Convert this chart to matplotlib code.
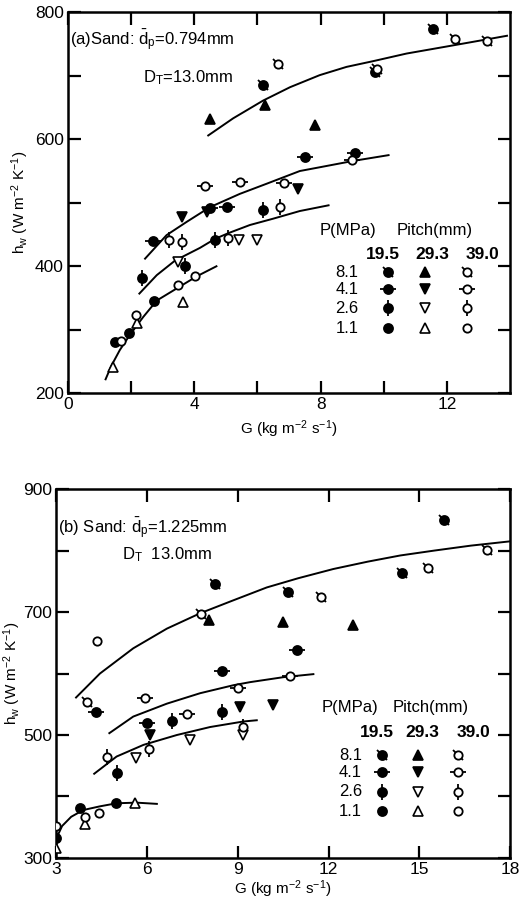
import matplotlib
matplotlib.use("Agg")
import matplotlib.pyplot as plt
from matplotlib.markers import MarkerStyle
from matplotlib.transforms import Affine2D

plt.rcParams['font.family'] = ['Liberation Sans', 'DejaVu Sans']
plt.rcParams['mathtext.fontset'] = 'custom'
plt.rcParams['mathtext.rm'] = 'Liberation Sans'
plt.rcParams['mathtext.it'] = 'Liberation Sans:italic'
plt.rcParams['mathtext.bf'] = 'Liberation Sans:bold'

pressures = ['8.1', '4.1', '2.6', '1.1']
pitches = ['19.5', '29.3', '39.0']

# ---- panel (a): sand dp = 0.794 mm ----
# each list holds one series per pitch (19.5, 29.3, 39.0)
a_g_81 = [[6.18, 9.72, 11.57], [4.49, 6.24, 7.82], [6.66, 9.78, 12.26, 13.27]]
a_h_81 = [[685, 706, 774], [632, 654, 623], [718, 711, 758, 754]]
a_g_41 = [[2.7, 4.49, 5.02, 7.5, 9.09], [3.6, 4.39, 7.29], [4.34, 5.44, 6.85, 8.99]]
a_h_41 = [[440, 491, 493, 572, 578], [478, 485, 522], [526, 533, 531, 568]]
a_g_26 = [[2.33, 3.7, 4.65, 6.18], [3.49, 5.42, 5.97], [3.21, 3.6, 5.07, 6.71]]
a_h_26 = [[382, 401, 441, 488], [407, 441, 442], [441, 438, 444, 493]]
a_g_11 = [[1.48, 1.93, 2.72], [1.43, 2.19, 3.63], [1.69, 2.15, 3.49, 4.02]]
a_h_11 = [[281, 295, 345], [242, 311, 344], [283, 324, 370, 384]]

# fitted curves
a_curve_g_81 = [4.44, 5.23, 6.18, 7.03, 7.97, 8.82, 9.66, 10.72, 11.98, 13.0, 13.9]
a_curve_h_81 = [606, 633, 661, 682, 701, 714, 723, 735, 746, 755, 763]
a_curve_g_41 = [2.44, 3.12, 3.76, 4.49, 5.44, 6.29, 7.34, 7.98, 9.04, 10.15]
a_curve_h_41 = [412, 449, 470, 493, 514, 530, 550, 556, 566, 575]
a_curve_g_26 = [2.26, 2.81, 3.39, 4.18, 4.65, 5.07, 5.76, 6.5, 7.34, 8.25]
a_curve_h_26 = [357, 386, 409, 429, 443, 452, 465, 475, 487, 496]
a_curve_g_11 = [1.19, 1.37, 1.64, 1.96, 2.38, 2.81, 3.44, 4.07, 4.7]
a_curve_h_11 = [222, 243, 268, 292, 320, 346, 365, 384, 400]

# ---- panel (b): sand dp = 1.225 mm ----
b_g_81 = [[8.25, 10.67, 14.42, 15.82], [8.06, 10.49, 12.82], [4.01, 7.78, 11.76, 15.3, 17.25]]
b_h_81 = [[745, 733, 764, 850], [687, 684, 679], [553, 697, 724, 771, 801]]
b_g_41 = [[4.31, 6.02, 8.49, 10.95], [6.1, 9.06, 10.16], [5.94, 7.34, 9.02, 10.73]]
b_h_41 = [[538, 520, 604, 639], [500, 545, 549], [560, 534, 577, 596]]
b_g_26 = [[5.0, 6.84, 8.47], [5.64, 7.43, 9.19], [4.67, 6.08, 9.17]]
b_h_26 = [[439, 522, 538], [462, 492, 500], [465, 478, 513]]
b_g_11 = [[3.0, 3.79, 4.98], [3.0, 3.94, 5.61], [3.0, 3.94, 4.42, 4.34]]
b_h_11 = [[332, 382, 390], [317, 356, 389], [352, 366, 373, 653]]

b_curve_g_81 = [3.66, 4.45, 5.55, 6.66, 7.76, 8.8, 9.96, 11.0, 12.16, 13.3, 14.37, 15.5, 16.7, 18.0]
b_curve_h_81 = [561, 600, 641, 673, 698, 718, 740, 755, 770, 782, 792, 800, 808, 815]
b_curve_g_41 = [4.76, 5.55, 6.66, 7.76, 8.86, 9.41, 10.5, 11.5]
b_curve_h_41 = [503, 530, 551, 568, 581, 586, 594, 599]
b_curve_g_26 = [4.26, 5.0, 5.89, 6.99, 8.09, 9.19, 9.63]
b_curve_h_26 = [437, 465, 484, 500, 513, 522, 524]
b_curve_g_11 = [3.02, 3.2, 3.5, 3.9, 4.45, 5.0, 5.66, 6.33]
b_curve_h_11 = [333, 352, 367, 378, 384, 389, 390, 388]


def stub_marker(p):
    if p == 0:
        return MarkerStyle('|', transform=Affine2D().rotate_deg(45))
    if p == 1:
        return '_'
    if p == 2:
        return '|'
    return None


def mark(ax, x, y, p, k, transform=None):
    kw = {} if transform is None else {'transform': transform, 'clip_on': False}
    if k == 1:
        m = '^' if p in (0, 3) else 'v'
        fc = 'black' if p in (0, 1) else 'white'
        ax.plot(x, y, ls='none', marker=m, ms=7, mfc=fc, mec='black',
                mew=1.2, zorder=5, **kw)
        return
    st = stub_marker(p)
    if st is not None:
        ax.plot(x, y, ls='none', marker=st, ms=11, mec='black', mew=1.3,
                zorder=4, **kw)
    fc = 'black' if k == 0 else 'white'
    ms = 6.5 if k == 0 else 6
    ax.plot(x, y, ls='none', marker='o', ms=ms, mfc=fc, mec='black',
            mew=1.3, zorder=5, **kw)


def draw_panel(ax, gs, hs, cg, ch):
    for g, h in zip(cg, ch):
        ax.plot(g, h, color='black', lw=1.4, zorder=3)
    for p in range(4):
        for k in range(3):
            mark(ax, gs[p][k], hs[p][k], p, k)


def draw_legend(ax, px, hy, colx, ky, rowx, mcols, rows):
    t = ax.transAxes
    ax.text(px[0], hy, 'P(MPa)', transform=t, ha='center', va='center', fontsize=12)
    ax.text(px[1], hy, 'Pitch(mm)', transform=t, ha='center', va='center', fontsize=12)
    for cx, lab in zip(colx, pitches):
        ax.text(cx, ky, lab, transform=t, ha='center', va='center',
                fontsize=12.5, fontweight='bold')
    for p, (ry, lab) in enumerate(zip(rows, pressures)):
        ax.text(rowx, ry, lab, transform=t, ha='center', va='center', fontsize=12)
        for k, mx in enumerate(mcols):
            mark(ax, [mx], [ry], p, k, transform=t)


def style_axes(ax):
    for s in ax.spines.values():
        s.set_linewidth(1.8)
    ax.tick_params(which='both', direction='in', top=True, right=True,
                   length=9, width=1.6, labelsize=12.5, pad=3)


fig = plt.figure(figsize=(5.19, 9.02), dpi=100)

# ---------------- panel (a) ----------------
ax1 = fig.add_axes([0.131, 0.564, 0.852, 0.4224])
draw_panel(ax1, [a_g_81, a_g_41, a_g_26, a_g_11], [a_h_81, a_h_41, a_h_26, a_h_11],
           [a_curve_g_81, a_curve_g_41, a_curve_g_26, a_curve_g_11],
           [a_curve_h_81, a_curve_h_41, a_curve_h_26, a_curve_h_11])
ax1.set_xlim(0, 14)
ax1.set_ylim(200, 800)
ax1.set_xticks(range(0, 13, 2))
ax1.set_xticklabels(['0', '', '4', '', '8', '', '12'])
ax1.set_yticks(range(200, 801, 100))
ax1.set_yticklabels(['200', '', '400', '', '600', '', '800'])
style_axes(ax1)
ax1.set_xlabel('G (kg m$^{-2}$ s$^{-1}$)', fontsize=11, labelpad=4)
ax1.set_ylabel('h$_\\mathrm{w}$ (W m$^{-2}$ K$^{-1}$)', fontsize=11, labelpad=3)
ax1.text(0.005, 0.927, '(a)Sand: $\\bar{\\mathrm{d}}_\\mathrm{p}$=0.794mm',
         transform=ax1.transAxes, fontsize=12, va='center')
ax1.text(0.17, 0.829, 'D$_\\mathrm{T}$=13.0mm', transform=ax1.transAxes,
         fontsize=12, va='center')
draw_legend(ax1, (0.634, 0.830), 0.428, (0.713, 0.824, 0.937), 0.365,
            0.631, (0.724, 0.808, 0.903), (0.318, 0.273, 0.223, 0.171))

# ---------------- panel (b) ----------------
ax2 = fig.add_axes([0.108, 0.0488, 0.875, 0.409])
draw_panel(ax2, [b_g_81, b_g_41, b_g_26, b_g_11], [b_h_81, b_h_41, b_h_26, b_h_11],
           [b_curve_g_81, b_curve_g_41, b_curve_g_26, b_curve_g_11],
           [b_curve_h_81, b_curve_h_41, b_curve_h_26, b_curve_h_11])
ax2.set_xlim(3, 18)
ax2.set_ylim(300, 900)
ax2.set_xticks(range(3, 19, 3))
ax2.set_yticks(range(300, 901, 100))
ax2.set_yticklabels(['300', '', '500', '', '700', '', '900'])
style_axes(ax2)
ax2.set_xlabel('G (kg m$^{-2}$ s$^{-1}$)', fontsize=11, labelpad=1)
ax2.set_ylabel('h$_\\mathrm{w}$ (W m$^{-2}$ K$^{-1}$)', fontsize=11, labelpad=0)
ax2.text(0.005, 0.894, '(b) Sand: $\\bar{\\mathrm{d}}_\\mathrm{p}$=1.225mm',
         transform=ax2.transAxes, fontsize=12, va='center')
ax2.text(0.145, 0.821, 'D$_\\mathrm{T}$  13.0mm', transform=ax2.transAxes,
         fontsize=12, va='center')
draw_legend(ax2, (0.648, 0.824), 0.409, (0.707, 0.806, 0.919), 0.339,
            0.648, (0.718, 0.797, 0.885), (0.279, 0.233, 0.179, 0.127))

fig.savefig('out.png', dpi=100)
